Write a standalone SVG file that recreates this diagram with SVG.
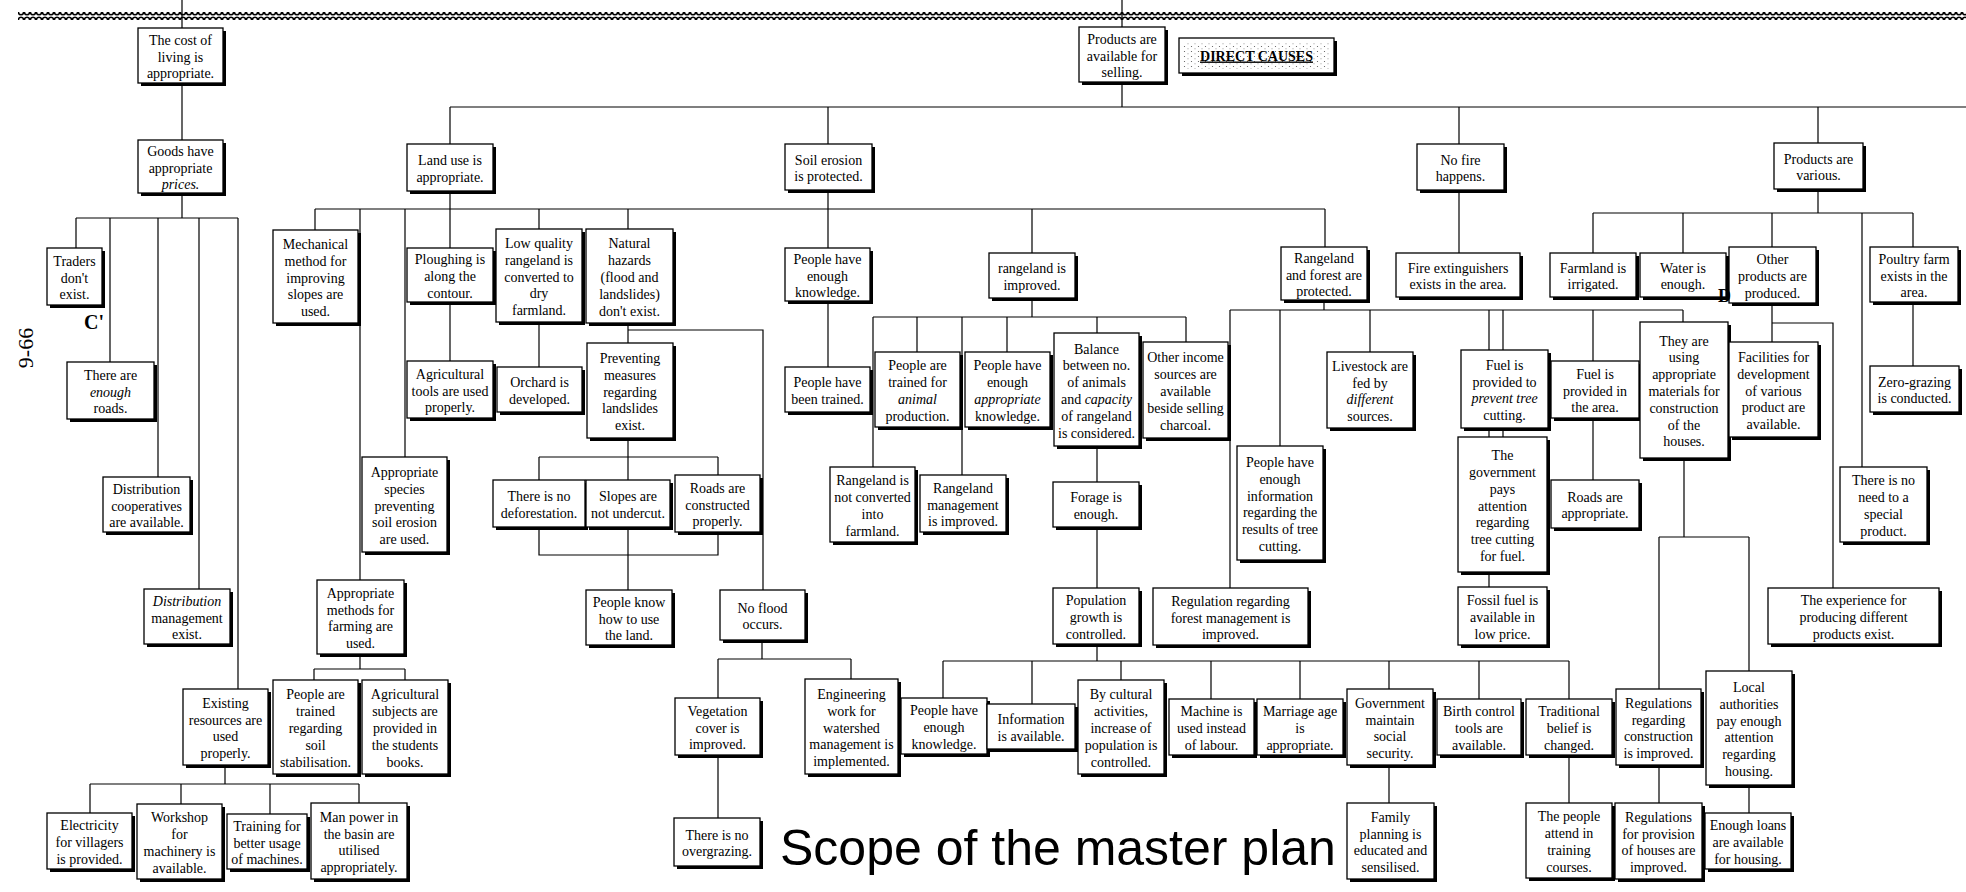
<svg xmlns="http://www.w3.org/2000/svg" width="1966" height="892" viewBox="0 0 1966 892">
<style>
  .b { fill:#fff; stroke:#000; stroke-width:1.3; }
  .s { fill:#000; }
  .cn path { fill:none; stroke:#000; stroke-width:1.2; }
  text { font-family:"Liberation Serif","Times New Roman",serif; font-size:14px; text-anchor:middle; fill:#000; }
  .it { font-style:italic; }
  .title { font-family:"Liberation Sans",Arial,sans-serif; font-size:50px; text-anchor:start; }
  .mark { font-weight:bold; font-size:20px; text-anchor:start; }
  .hd { font-weight:bold; text-decoration:underline; }
</style>
<defs>
  <pattern id="rope" width="6" height="8" patternUnits="userSpaceOnUse">
    <ellipse cx="3" cy="4" rx="2.6" ry="2.7" fill="none" stroke="#000" stroke-width="1.6"/>
  </pattern>
  <pattern id="stipple" width="7" height="5" patternUnits="userSpaceOnUse">
    <circle cx="1.5" cy="1.5" r="0.6" fill="#555"/>
    <circle cx="5" cy="3.8" r="0.5" fill="#777"/>
  </pattern>
</defs>
<rect width="1966" height="892" fill="#fff"/>

<!-- rope border along the top -->
<rect x="18" y="12" width="1948" height="8" fill="url(#rope)"/>

<!-- connectors -->
<g class="cn">
  <path d="M182,0 V28 M1122,0 V27"/>
  <path d="M182,83 V140"/>
  <path d="M182,193 V218 M76,218 H238 M76,218 V248 M110,218 V362 M158,218 V477 M199,218 V589 M238,218 V689"/>
  <path d="M225,765 V784 M90,784 H359 M90,784 V813 M181,784 V804 M270,784 V814 M359,784 V803"/>
  <path d="M1122,82 V107 M450,107 H1966 M450,107 V144 M828,107 V144 M1459,107 V144 M1818,107 V143"/>
  <path d="M450,191 V209 M315,209 H1325 M315,209 V230 M360,209 V580 M405,209 V457 M450,209 V248 M539,209 V229 M628,209 V229 M828,190 V248 M1032,209 V253 M1325,209 V247"/>
  <path d="M450,302 V361"/>
  <path d="M360,654 V669 M314,669 H405 M314,669 V680 M405,669 V680"/>
  <path d="M539,322 V367"/>
  <path d="M628,323 V343 M628,330 H763 V590"/>
  <path d="M628,438 V457 M539,457 H718 M539,457 V480 M628,457 V480 M718,457 V475"/>
  <path d="M539,527 V555 H718 V532 M628,527 V590"/>
  <path d="M762,640 V659 M718,659 H851 M718,659 V698 M851,659 V679 M718,755 V818"/>
  <path d="M828,301 V367"/>
  <path d="M1032,298 V317 M873,317 H1186 M873,317 V467 M917,317 V352 M962,317 V475 M1007,317 V352 M1097,317 V333 M1186,317 V342"/>
  <path d="M1097,446 V482 M1097,527 V588 M1097,644 V661 M943,661 H1569 M943,661 V698 M1032,661 V704 M1121,661 V680 M1211,661 V699 M1300,661 V699 M1389,661 V689 M1479,661 V699 M1569,661 V699"/>
  <path d="M1389,765 V803 M1569,755 V803"/>
  <path d="M1324,300 V310 M1230,310 H1683 M1230,310 V588 M1280,310 V446 M1370,310 V352 M1489,310 V350 M1503,310 V350 M1593,310 V361 M1683,310 V322"/>
  <path d="M1489,428 V437 M1503,428 V437 M1489,572 V587"/>
  <path d="M1593,418 V480"/>
  <path d="M1684,458 V537 M1659,537 H1749 M1659,537 V689 M1749,537 V671 M1659,765 V803 M1749,785 V813"/>
  <path d="M1459,190 V253"/>
  <path d="M1818,189 V213 M1593,213 H1913 M1593,213 V253 M1683,213 V253 M1772,213 V247 M1862,213 V467 M1913,213 V247"/>
  <path d="M1913,302 V366"/>
  <path d="M1772,303 V323 H1833 V588 M1772,323 V342"/>
</g>

<!-- nodes -->
<g id="n-cost"><rect class="s" x="141" y="31" width="85" height="55"/><rect class="b" x="138" y="28" width="85" height="55"/><text><tspan x="180.5" y="44.7">The cost of</tspan><tspan x="180.5" y="61.5">living is</tspan><tspan x="180.5" y="78.3">appropriate.</tspan></text></g>
<g id="n-goods"><rect class="s" x="141" y="143" width="85" height="53"/><rect class="b" x="138" y="140" width="85" height="53"/><text><tspan x="180.5" y="155.7">Goods have</tspan><tspan x="180.5" y="172.5">appropriate</tspan><tspan x="180.5" y="189.3" class="it">prices.</tspan></text></g>
<g id="n-traders"><rect class="s" x="50" y="251" width="55" height="57"/><rect class="b" x="47" y="248" width="55" height="57"/><text><tspan x="74.5" y="265.7">Traders</tspan><tspan x="74.5" y="282.5">don't</tspan><tspan x="74.5" y="299.3">exist.</tspan></text></g>
<g id="n-roads"><rect class="s" x="70" y="365" width="87" height="57"/><rect class="b" x="67" y="362" width="87" height="57"/><text><tspan x="110.5" y="379.7">There are</tspan><tspan x="110.5" y="396.5" class="it">enough</tspan><tspan x="110.5" y="413.3">roads.</tspan></text></g>
<g id="n-distcoop"><rect class="s" x="106" y="480" width="87" height="55"/><rect class="b" x="103" y="477" width="87" height="55"/><text><tspan x="146.5" y="493.7">Distribution</tspan><tspan x="146.5" y="510.5">cooperatives</tspan><tspan x="146.5" y="527.3">are available.</tspan></text></g>
<g id="n-distmgmt"><rect class="s" x="147" y="592" width="86" height="55"/><rect class="b" x="144" y="589" width="86" height="55"/><text><tspan x="187" y="605.7" class="it">Distribution</tspan><tspan x="187" y="622.5">management</tspan><tspan x="187" y="639.3">exist.</tspan></text></g>
<g id="n-existing"><rect class="s" x="186" y="692" width="85" height="76"/><rect class="b" x="183" y="689" width="85" height="76"/><text><tspan x="225.5" y="707.8">Existing</tspan><tspan x="225.5" y="724.6">resources are</tspan><tspan x="225.5" y="741.4">used</tspan><tspan x="225.5" y="758.2">properly.</tspan></text></g>
<g id="n-electricity"><rect class="s" x="50" y="816" width="85" height="56"/><rect class="b" x="47" y="813" width="85" height="56"/><text><tspan x="89.5" y="830.2">Electricity</tspan><tspan x="89.5" y="847">for villagers</tspan><tspan x="89.5" y="863.8">is provided.</tspan></text></g>
<g id="n-workshop"><rect class="s" x="140" y="807" width="85" height="75"/><rect class="b" x="137" y="804" width="85" height="75"/><text><tspan x="179.5" y="822.3">Workshop</tspan><tspan x="179.5" y="839.1">for</tspan><tspan x="179.5" y="855.9">machinery is</tspan><tspan x="179.5" y="872.7">available.</tspan></text></g>
<g id="n-training"><rect class="s" x="230" y="817" width="80" height="55"/><rect class="b" x="227" y="814" width="80" height="55"/><text><tspan x="267" y="830.7">Training for</tspan><tspan x="267" y="847.5">better usage</tspan><tspan x="267" y="864.3">of machines.</tspan></text></g>
<g id="n-manpower"><rect class="s" x="314" y="806" width="96" height="76"/><rect class="b" x="311" y="803" width="96" height="76"/><text><tspan x="359" y="821.8">Man power in</tspan><tspan x="359" y="838.6">the basin are</tspan><tspan x="359" y="855.4">utilised</tspan><tspan x="359" y="872.2">appropriately.</tspan></text></g>
<g id="n-landuse"><rect class="s" x="410" y="147" width="86" height="47"/><rect class="b" x="407" y="144" width="86" height="47"/><text><tspan x="450" y="165.1">Land use is</tspan><tspan x="450" y="181.9">appropriate.</tspan></text></g>
<g id="n-mechanical"><rect class="s" x="276" y="233" width="85" height="93"/><rect class="b" x="273" y="230" width="85" height="93"/><text><tspan x="315.5" y="248.9">Mechanical</tspan><tspan x="315.5" y="265.7">method for</tspan><tspan x="315.5" y="282.5">improving</tspan><tspan x="315.5" y="299.3">slopes are</tspan><tspan x="315.5" y="316.1">used.</tspan></text></g>
<g id="n-ploughing"><rect class="s" x="410" y="251" width="86" height="54"/><rect class="b" x="407" y="248" width="86" height="54"/><text><tspan x="450" y="264.2">Ploughing is</tspan><tspan x="450" y="281">along the</tspan><tspan x="450" y="297.8">contour.</tspan></text></g>
<g id="n-agtools"><rect class="s" x="410" y="364" width="86" height="57"/><rect class="b" x="407" y="361" width="86" height="57"/><text><tspan x="450" y="378.7">Agricultural</tspan><tspan x="450" y="395.5">tools are used</tspan><tspan x="450" y="412.3">properly.</tspan></text></g>
<g id="n-species"><rect class="s" x="365" y="460" width="85" height="95"/><rect class="b" x="362" y="457" width="85" height="95"/><text><tspan x="404.5" y="476.9">Appropriate</tspan><tspan x="404.5" y="493.7">species</tspan><tspan x="404.5" y="510.5">preventing</tspan><tspan x="404.5" y="527.3">soil erosion</tspan><tspan x="404.5" y="544.1">are used.</tspan></text></g>
<g id="n-methods"><rect class="s" x="320" y="583" width="87" height="74"/><rect class="b" x="317" y="580" width="87" height="74"/><text><tspan x="360.5" y="597.8">Appropriate</tspan><tspan x="360.5" y="614.6">methods for</tspan><tspan x="360.5" y="631.4">farming are</tspan><tspan x="360.5" y="648.2">used.</tspan></text></g>
<g id="n-trainedsoil"><rect class="s" x="276" y="683" width="85" height="94"/><rect class="b" x="273" y="680" width="85" height="94"/><text><tspan x="315.5" y="699.4">People are</tspan><tspan x="315.5" y="716.2">trained</tspan><tspan x="315.5" y="733">regarding</tspan><tspan x="315.5" y="749.8">soil</tspan><tspan x="315.5" y="766.6">stabilisation.</tspan></text></g>
<g id="n-agsubjects"><rect class="s" x="365" y="683" width="86" height="94"/><rect class="b" x="362" y="680" width="86" height="94"/><text><tspan x="405" y="699.4">Agricultural</tspan><tspan x="405" y="716.2">subjects are</tspan><tspan x="405" y="733">provided in</tspan><tspan x="405" y="749.8">the students</tspan><tspan x="405" y="766.6">books.</tspan></text></g>
<g id="n-lowquality"><rect class="s" x="499" y="232" width="86" height="93"/><rect class="b" x="496" y="229" width="86" height="93"/><text><tspan x="539" y="247.9">Low quality</tspan><tspan x="539" y="264.7">rangeland is</tspan><tspan x="539" y="281.5">converted to</tspan><tspan x="539" y="298.3">dry</tspan><tspan x="539" y="315.1">farmland.</tspan></text></g>
<g id="n-orchard"><rect class="s" x="500" y="370" width="85" height="45"/><rect class="b" x="497" y="367" width="85" height="45"/><text><tspan x="539.5" y="387.1">Orchard is</tspan><tspan x="539.5" y="403.9">developed.</tspan></text></g>
<g id="n-hazards"><rect class="s" x="589" y="232" width="87" height="94"/><rect class="b" x="586" y="229" width="87" height="94"/><text><tspan x="629.5" y="248.4">Natural</tspan><tspan x="629.5" y="265.2">hazards</tspan><tspan x="629.5" y="282">(flood and</tspan><tspan x="629.5" y="298.8">landslides)</tspan><tspan x="629.5" y="315.6">don't exist.</tspan></text></g>
<g id="n-preventing"><rect class="s" x="590" y="346" width="86" height="95"/><rect class="b" x="587" y="343" width="86" height="95"/><text><tspan x="630" y="362.9">Preventing</tspan><tspan x="630" y="379.7">measures</tspan><tspan x="630" y="396.5">regarding</tspan><tspan x="630" y="413.3">landslides</tspan><tspan x="630" y="430.1">exist.</tspan></text></g>
<g id="n-nodefor"><rect class="s" x="496" y="483" width="92" height="47"/><rect class="b" x="493" y="480" width="92" height="47"/><text><tspan x="539" y="501.1">There is no</tspan><tspan x="539" y="517.9">deforestation.</tspan></text></g>
<g id="n-slopes"><rect class="s" x="589" y="483" width="84" height="47"/><rect class="b" x="586" y="480" width="84" height="47"/><text><tspan x="628" y="501.1">Slopes are</tspan><tspan x="628" y="517.9">not undercut.</tspan></text></g>
<g id="n-roadsconst"><rect class="s" x="678" y="478" width="85" height="57"/><rect class="b" x="675" y="475" width="85" height="57"/><text><tspan x="717.5" y="492.7">Roads are</tspan><tspan x="717.5" y="509.5">constructed</tspan><tspan x="717.5" y="526.3">properly.</tspan></text></g>
<g id="n-knowland"><rect class="s" x="589" y="593" width="86" height="55"/><rect class="b" x="586" y="590" width="86" height="55"/><text><tspan x="629" y="606.7">People know</tspan><tspan x="629" y="623.5">how to use</tspan><tspan x="629" y="640.3">the land.</tspan></text></g>
<g id="n-noflood"><rect class="s" x="723" y="593" width="85" height="50"/><rect class="b" x="720" y="590" width="85" height="50"/><text><tspan x="762.5" y="612.6">No flood</tspan><tspan x="762.5" y="629.4">occurs.</tspan></text></g>
<g id="n-vegetation"><rect class="s" x="678" y="701" width="85" height="57"/><rect class="b" x="675" y="698" width="85" height="57"/><text><tspan x="717.5" y="715.7">Vegetation</tspan><tspan x="717.5" y="732.5">cover is</tspan><tspan x="717.5" y="749.3">improved.</tspan></text></g>
<g id="n-engineering"><rect class="s" x="808" y="682" width="93" height="95"/><rect class="b" x="805" y="679" width="93" height="95"/><text><tspan x="851.5" y="698.9">Engineering</tspan><tspan x="851.5" y="715.7">work for</tspan><tspan x="851.5" y="732.5">watershed</tspan><tspan x="851.5" y="749.3">management is</tspan><tspan x="851.5" y="766.1">implemented.</tspan></text></g>
<g id="n-overgrazing"><rect class="s" x="677" y="821" width="86" height="48"/><rect class="b" x="674" y="818" width="86" height="48"/><text><tspan x="717" y="839.6">There is no</tspan><tspan x="717" y="856.4">overgrazing.</tspan></text></g>
<g id="n-products"><rect class="s" x="1082" y="30" width="86" height="55"/><rect class="b" x="1079" y="27" width="86" height="55"/><text><tspan x="1122" y="43.7">Products are</tspan><tspan x="1122" y="60.5">available for</tspan><tspan x="1122" y="77.3">selling.</tspan></text></g>
<g id="n-direct"><rect class="s" x="1182" y="41" width="155" height="35"/><rect class="b" x="1179" y="38" width="155" height="35"/><rect x="1183" y="42" width="147" height="27" fill="url(#stipple)"/><text class="hd" x="1256.5" y="60.5">DIRECT CAUSES</text></g>
<g id="n-soil"><rect class="s" x="788" y="147" width="87" height="46"/><rect class="b" x="785" y="144" width="87" height="46"/><text><tspan x="828.5" y="164.6">Soil erosion</tspan><tspan x="828.5" y="181.4">is protected.</tspan></text></g>
<g id="n-knowledge"><rect class="s" x="788" y="251" width="85" height="53"/><rect class="b" x="785" y="248" width="85" height="53"/><text><tspan x="827.5" y="263.7">People have</tspan><tspan x="827.5" y="280.5">enough</tspan><tspan x="827.5" y="297.3">knowledge.</tspan></text></g>
<g id="n-trained"><rect class="s" x="788" y="370" width="85" height="45"/><rect class="b" x="785" y="367" width="85" height="45"/><text><tspan x="827.5" y="387.1">People have</tspan><tspan x="827.5" y="403.9">been trained.</tspan></text></g>
<g id="n-rangeland"><rect class="s" x="992" y="256" width="86" height="45"/><rect class="b" x="989" y="253" width="86" height="45"/><text><tspan x="1032" y="273.1">rangeland is</tspan><tspan x="1032" y="289.9">improved.</tspan></text></g>
<g id="n-animal"><rect class="s" x="878" y="355" width="85" height="75"/><rect class="b" x="875" y="352" width="85" height="75"/><text><tspan x="917.5" y="370.3">People are</tspan><tspan x="917.5" y="387.1">trained for</tspan><tspan x="917.5" y="403.9" class="it">animal</tspan><tspan x="917.5" y="420.7">production.</tspan></text></g>
<g id="n-appknow"><rect class="s" x="968" y="355" width="85" height="75"/><rect class="b" x="965" y="352" width="85" height="75"/><text><tspan x="1007.5" y="370.3">People have</tspan><tspan x="1007.5" y="387.1">enough</tspan><tspan x="1007.5" y="403.9" class="it">appropriate</tspan><tspan x="1007.5" y="420.7">knowledge.</tspan></text></g>
<g id="n-balance"><rect class="s" x="1057" y="336" width="85" height="113"/><rect class="b" x="1054" y="333" width="85" height="113"/><text><tspan x="1096.5" y="353.5">Balance</tspan><tspan x="1096.5" y="370.3">between no.</tspan><tspan x="1096.5" y="387.1">of animals</tspan><tspan x="1096.5" y="403.9">and <tspan class="it">capacity</tspan></tspan><tspan x="1096.5" y="420.7">of rangeland</tspan><tspan x="1096.5" y="437.5">is considered.</tspan></text></g>
<g id="n-otherincome"><rect class="s" x="1146" y="345" width="85" height="96"/><rect class="b" x="1143" y="342" width="85" height="96"/><text><tspan x="1185.5" y="362.4">Other income</tspan><tspan x="1185.5" y="379.2">sources are</tspan><tspan x="1185.5" y="396">available</tspan><tspan x="1185.5" y="412.8">beside selling</tspan><tspan x="1185.5" y="429.6">charcoal.</tspan></text></g>
<g id="n-notconverted"><rect class="s" x="833" y="470" width="85" height="75"/><rect class="b" x="830" y="467" width="85" height="75"/><text><tspan x="872.5" y="485.3">Rangeland is</tspan><tspan x="872.5" y="502.1">not converted</tspan><tspan x="872.5" y="518.9">into</tspan><tspan x="872.5" y="535.7">farmland.</tspan></text></g>
<g id="n-rmgmt"><rect class="s" x="923" y="478" width="86" height="57"/><rect class="b" x="920" y="475" width="86" height="57"/><text><tspan x="963" y="492.7">Rangeland</tspan><tspan x="963" y="509.5">management</tspan><tspan x="963" y="526.3">is improved.</tspan></text></g>
<g id="n-forage"><rect class="s" x="1056" y="485" width="86" height="45"/><rect class="b" x="1053" y="482" width="86" height="45"/><text><tspan x="1096" y="502.1">Forage is</tspan><tspan x="1096" y="518.9">enough.</tspan></text></g>
<g id="n-population"><rect class="s" x="1056" y="591" width="86" height="56"/><rect class="b" x="1053" y="588" width="86" height="56"/><text><tspan x="1096" y="605.2">Population</tspan><tspan x="1096" y="622">growth is</tspan><tspan x="1096" y="638.8">controlled.</tspan></text></g>
<g id="n-knowledge2"><rect class="s" x="904" y="701" width="86" height="56"/><rect class="b" x="901" y="698" width="86" height="56"/><text><tspan x="944" y="715.2">People have</tspan><tspan x="944" y="732">enough</tspan><tspan x="944" y="748.8">knowledge.</tspan></text></g>
<g id="n-information"><rect class="s" x="990" y="707" width="88" height="45"/><rect class="b" x="987" y="704" width="88" height="45"/><text><tspan x="1031" y="724.1">Information</tspan><tspan x="1031" y="740.9">is available.</tspan></text></g>
<g id="n-cultural"><rect class="s" x="1081" y="683" width="86" height="94"/><rect class="b" x="1078" y="680" width="86" height="94"/><text><tspan x="1121" y="699.4">By cultural</tspan><tspan x="1121" y="716.2">activities,</tspan><tspan x="1121" y="733">increase of</tspan><tspan x="1121" y="749.8">population is</tspan><tspan x="1121" y="766.6">controlled.</tspan></text></g>
<g id="n-machine"><rect class="s" x="1172" y="702" width="85" height="56"/><rect class="b" x="1169" y="699" width="85" height="56"/><text><tspan x="1211.5" y="716.2">Machine is</tspan><tspan x="1211.5" y="733">used instead</tspan><tspan x="1211.5" y="749.8">of labour.</tspan></text></g>
<g id="n-marriage"><rect class="s" x="1260" y="702" width="86" height="56"/><rect class="b" x="1257" y="699" width="86" height="56"/><text><tspan x="1300" y="716.2">Marriage age</tspan><tspan x="1300" y="733">is</tspan><tspan x="1300" y="749.8">appropriate.</tspan></text></g>
<g id="n-government"><rect class="s" x="1350" y="692" width="86" height="76"/><rect class="b" x="1347" y="689" width="86" height="76"/><text><tspan x="1390" y="707.8">Government</tspan><tspan x="1390" y="724.6">maintain</tspan><tspan x="1390" y="741.4">social</tspan><tspan x="1390" y="758.2">security.</tspan></text></g>
<g id="n-family"><rect class="s" x="1350" y="806" width="87" height="76"/><rect class="b" x="1347" y="803" width="87" height="76"/><text><tspan x="1390.5" y="821.8">Family</tspan><tspan x="1390.5" y="838.6">planning is</tspan><tspan x="1390.5" y="855.4">educated and</tspan><tspan x="1390.5" y="872.2">sensilised.</tspan></text></g>
<g id="n-birth"><rect class="s" x="1440" y="702" width="84" height="56"/><rect class="b" x="1437" y="699" width="84" height="56"/><text><tspan x="1479" y="716.2">Birth control</tspan><tspan x="1479" y="733">tools are</tspan><tspan x="1479" y="749.8">available.</tspan></text></g>
<g id="n-traditional"><rect class="s" x="1529" y="702" width="86" height="56"/><rect class="b" x="1526" y="699" width="86" height="56"/><text><tspan x="1569" y="716.2">Traditional</tspan><tspan x="1569" y="733">belief is</tspan><tspan x="1569" y="749.8">changed.</tspan></text></g>
<g id="n-attend"><rect class="s" x="1529" y="806" width="86" height="75"/><rect class="b" x="1526" y="803" width="86" height="75"/><text><tspan x="1569" y="821.3">The people</tspan><tspan x="1569" y="838.1">attend in</tspan><tspan x="1569" y="854.9">training</tspan><tspan x="1569" y="871.7">courses.</tspan></text></g>
<g id="n-rforest"><rect class="s" x="1284" y="250" width="86" height="53"/><rect class="b" x="1281" y="247" width="86" height="53"/><text><tspan x="1324" y="262.7">Rangeland</tspan><tspan x="1324" y="279.5">and forest are</tspan><tspan x="1324" y="296.3">protected.</tspan></text></g>
<g id="n-info"><rect class="s" x="1240" y="449" width="86" height="114"/><rect class="b" x="1237" y="446" width="86" height="114"/><text><tspan x="1280" y="467">People have</tspan><tspan x="1280" y="483.8">enough</tspan><tspan x="1280" y="500.6">information</tspan><tspan x="1280" y="517.4">regarding the</tspan><tspan x="1280" y="534.2">results of tree</tspan><tspan x="1280" y="551">cutting.</tspan></text></g>
<g id="n-regforest"><rect class="s" x="1156" y="591" width="155" height="57"/><rect class="b" x="1153" y="588" width="155" height="57"/><text><tspan x="1230.5" y="605.7">Regulation regarding</tspan><tspan x="1230.5" y="622.5">forest management is</tspan><tspan x="1230.5" y="639.3">improved.</tspan></text></g>
<g id="n-livestock"><rect class="s" x="1330" y="355" width="86" height="76"/><rect class="b" x="1327" y="352" width="86" height="76"/><text><tspan x="1370" y="370.8">Livestock are</tspan><tspan x="1370" y="387.6">fed by</tspan><tspan x="1370" y="404.4" class="it">different</tspan><tspan x="1370" y="421.2">sources.</tspan></text></g>
<g id="n-nofire"><rect class="s" x="1420" y="147" width="87" height="46"/><rect class="b" x="1417" y="144" width="87" height="46"/><text><tspan x="1460.5" y="164.6">No fire</tspan><tspan x="1460.5" y="181.4">happens.</tspan></text></g>
<g id="n-extinguishers"><rect class="s" x="1399" y="256" width="124" height="44"/><rect class="b" x="1396" y="253" width="124" height="44"/><text><tspan x="1458" y="272.6">Fire extinguishers</tspan><tspan x="1458" y="289.4">exists in the area.</tspan></text></g>
<g id="n-fuelprevent"><rect class="s" x="1464" y="353" width="87" height="78"/><rect class="b" x="1461" y="350" width="87" height="78"/><text><tspan x="1504.5" y="369.8">Fuel is</tspan><tspan x="1504.5" y="386.6">provided to</tspan><tspan x="1504.5" y="403.4" class="it">prevent tree</tspan><tspan x="1504.5" y="420.2">cutting.</tspan></text></g>
<g id="n-govpays"><rect class="s" x="1461" y="440" width="89" height="135"/><rect class="b" x="1458" y="437" width="89" height="135"/><text><tspan x="1502.5" y="460.1">The</tspan><tspan x="1502.5" y="476.9">government</tspan><tspan x="1502.5" y="493.7">pays</tspan><tspan x="1502.5" y="510.5">attention</tspan><tspan x="1502.5" y="527.3">regarding</tspan><tspan x="1502.5" y="544.1">tree cutting</tspan><tspan x="1502.5" y="560.9">for fuel.</tspan></text></g>
<g id="n-fossil"><rect class="s" x="1461" y="590" width="89" height="58"/><rect class="b" x="1458" y="587" width="89" height="58"/><text><tspan x="1502.5" y="605.2">Fossil fuel is</tspan><tspan x="1502.5" y="622">available in</tspan><tspan x="1502.5" y="638.8">low price.</tspan></text></g>
<g id="n-fuelarea"><rect class="s" x="1554" y="364" width="88" height="57"/><rect class="b" x="1551" y="361" width="88" height="57"/><text><tspan x="1595" y="378.7">Fuel is</tspan><tspan x="1595" y="395.5">provided in</tspan><tspan x="1595" y="412.3">the area.</tspan></text></g>
<g id="n-roadsapp"><rect class="s" x="1554" y="483" width="88" height="48"/><rect class="b" x="1551" y="480" width="88" height="48"/><text><tspan x="1595" y="501.6">Roads are</tspan><tspan x="1595" y="518.4">appropriate.</tspan></text></g>
<g id="n-materials"><rect class="s" x="1643" y="325" width="88" height="136"/><rect class="b" x="1640" y="322" width="88" height="136"/><text><tspan x="1684" y="345.6">They are</tspan><tspan x="1684" y="362.4">using</tspan><tspan x="1684" y="379.2">appropriate</tspan><tspan x="1684" y="396">materials for</tspan><tspan x="1684" y="412.8">construction</tspan><tspan x="1684" y="429.6">of the</tspan><tspan x="1684" y="446.4">houses.</tspan></text></g>
<g id="n-regconst"><rect class="s" x="1619" y="692" width="85" height="76"/><rect class="b" x="1616" y="689" width="85" height="76"/><text><tspan x="1658.5" y="707.8">Regulations</tspan><tspan x="1658.5" y="724.6">regarding</tspan><tspan x="1658.5" y="741.4">construction</tspan><tspan x="1658.5" y="758.2">is improved.</tspan></text></g>
<g id="n-local"><rect class="s" x="1709" y="674" width="86" height="114"/><rect class="b" x="1706" y="671" width="86" height="114"/><text><tspan x="1749" y="692">Local</tspan><tspan x="1749" y="708.8">authorities</tspan><tspan x="1749" y="725.6">pay enough</tspan><tspan x="1749" y="742.4">attention</tspan><tspan x="1749" y="759.2">regarding</tspan><tspan x="1749" y="776">housing.</tspan></text></g>
<g id="n-provision"><rect class="s" x="1618" y="806" width="87" height="76"/><rect class="b" x="1615" y="803" width="87" height="76"/><text><tspan x="1658.5" y="821.8">Regulations</tspan><tspan x="1658.5" y="838.6">for provision</tspan><tspan x="1658.5" y="855.4">of houses are</tspan><tspan x="1658.5" y="872.2">improved.</tspan></text></g>
<g id="n-loans"><rect class="s" x="1708" y="816" width="86" height="56"/><rect class="b" x="1705" y="813" width="86" height="56"/><text><tspan x="1748" y="830.2">Enough loans</tspan><tspan x="1748" y="847">are available</tspan><tspan x="1748" y="863.8">for housing.</tspan></text></g>
<g id="n-various"><rect class="s" x="1777" y="146" width="89" height="46"/><rect class="b" x="1774" y="143" width="89" height="46"/><text><tspan x="1818.5" y="163.6">Products are</tspan><tspan x="1818.5" y="180.4">various.</tspan></text></g>
<g id="n-farmland"><rect class="s" x="1553" y="256" width="86" height="44"/><rect class="b" x="1550" y="253" width="86" height="44"/><text><tspan x="1593" y="272.6">Farmland is</tspan><tspan x="1593" y="289.4">irrigated.</tspan></text></g>
<g id="n-water"><rect class="s" x="1643" y="256" width="86" height="44"/><rect class="b" x="1640" y="253" width="86" height="44"/><text><tspan x="1683" y="272.6">Water is</tspan><tspan x="1683" y="289.4">enough.</tspan></text></g>
<g id="n-otherprod"><rect class="s" x="1732" y="250" width="87" height="56"/><rect class="b" x="1729" y="247" width="87" height="56"/><text><tspan x="1772.5" y="264.2">Other</tspan><tspan x="1772.5" y="281">products are</tspan><tspan x="1772.5" y="297.8">produced.</tspan></text></g>
<g id="n-facilities"><rect class="s" x="1732" y="345" width="89" height="95"/><rect class="b" x="1729" y="342" width="89" height="95"/><text><tspan x="1773.5" y="361.9">Facilities for</tspan><tspan x="1773.5" y="378.7">development</tspan><tspan x="1773.5" y="395.5">of various</tspan><tspan x="1773.5" y="412.3">product are</tspan><tspan x="1773.5" y="429.1">available.</tspan></text></g>
<g id="n-poultry"><rect class="s" x="1873" y="250" width="88" height="55"/><rect class="b" x="1870" y="247" width="88" height="55"/><text><tspan x="1914" y="263.7">Poultry farm</tspan><tspan x="1914" y="280.5">exists in the</tspan><tspan x="1914" y="297.3">area.</tspan></text></g>
<g id="n-zero"><rect class="s" x="1873" y="369" width="89" height="46"/><rect class="b" x="1870" y="366" width="89" height="46"/><text><tspan x="1914.5" y="386.6">Zero-grazing</tspan><tspan x="1914.5" y="403.4">is conducted.</tspan></text></g>
<g id="n-noneed"><rect class="s" x="1843" y="470" width="87" height="75"/><rect class="b" x="1840" y="467" width="87" height="75"/><text><tspan x="1883.5" y="485.3">There is no</tspan><tspan x="1883.5" y="502.1">need to a</tspan><tspan x="1883.5" y="518.9">special</tspan><tspan x="1883.5" y="535.7">product.</tspan></text></g>
<g id="n-experience"><rect class="s" x="1771" y="591" width="171" height="56"/><rect class="b" x="1768" y="588" width="171" height="56"/><text><tspan x="1853.5" y="605.2">The experience for</tspan><tspan x="1853.5" y="622">producing different</tspan><tspan x="1853.5" y="638.8">products exist.</tspan></text></g>

<!-- margin marks and page number -->
<text class="mark" x="84" y="329">C'</text>
<text class="mark" x="1718" y="302" style="font-size:18px">D</text>
<text x="0" y="0" transform="translate(33,348) rotate(-90)" style="font-size:22px">9-66</text>

<!-- caption -->
<text class="title" x="780" y="865">Scope of the master plan</text>
</svg>
